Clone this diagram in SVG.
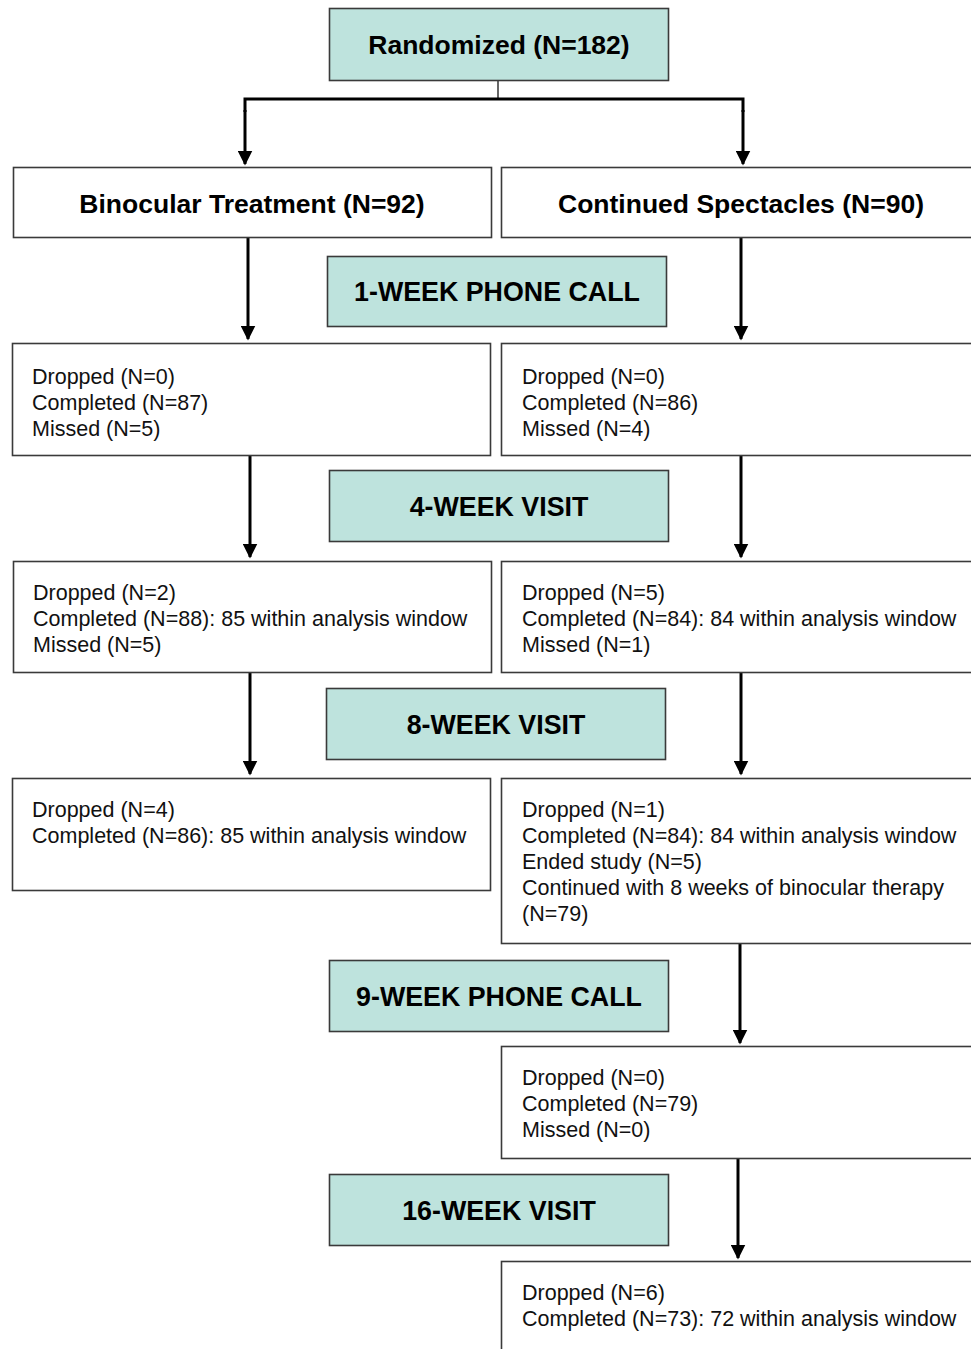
<svg xmlns="http://www.w3.org/2000/svg" width="971" height="1349" viewBox="0 0 971 1349">
<defs>
<marker id="ah" markerWidth="5" markerHeight="5" refX="4.5" refY="2.5" orient="auto" markerUnits="strokeWidth">
<path d="M0,0 L5,2.5 L0,5 Z" fill="#000"/>
</marker>
<style>
.box{fill:#fff;stroke:#3a3a3a;stroke-width:1.6}
.teal{fill:#bee3dd;stroke:#3a3a3a;stroke-width:1.6}
.h{font-family:"Liberation Sans",Arial,sans-serif;font-weight:bold;font-size:26.5px;fill:#000;text-anchor:middle}
.t{font-family:"Liberation Sans",Arial,sans-serif;font-weight:bold;font-size:26.8px;fill:#000;text-anchor:middle}
.b{font-family:"Liberation Sans",Arial,sans-serif;font-size:21.5px;fill:#111}
.c{fill:none;stroke:#000;stroke-width:3}
</style>
</defs>
<rect width="971" height="1349" fill="#fff"/>
<g id="connectors">
<line x1="498" y1="80" x2="498" y2="99" stroke="#000" stroke-width="1.2"/>
<polyline class="c" points="245,112 245,99 743,99 743,112"/>
<line class="c" x1="245" y1="110" x2="245" y2="164" marker-end="url(#ah)"/>
<line class="c" x1="743" y1="110" x2="743" y2="164" marker-end="url(#ah)"/>
<line class="c" x1="248" y1="238" x2="248" y2="339" marker-end="url(#ah)"/>
<line class="c" x1="741" y1="238" x2="741" y2="339" marker-end="url(#ah)"/>
<line class="c" x1="250" y1="456" x2="250" y2="557" marker-end="url(#ah)"/>
<line class="c" x1="741" y1="456" x2="741" y2="557" marker-end="url(#ah)"/>
<line class="c" x1="250" y1="673" x2="250" y2="774" marker-end="url(#ah)"/>
<line class="c" x1="741" y1="673" x2="741" y2="774" marker-end="url(#ah)"/>
<line class="c" x1="740" y1="943" x2="740" y2="1043" marker-end="url(#ah)"/>
<line class="c" x1="738" y1="1158" x2="738" y2="1258" marker-end="url(#ah)"/>
</g>
<g id="randomized">
<rect class="teal" x="329.5" y="8.5" width="339" height="72"/>
<text class="h" x="499" y="54">Randomized (N=182)</text>
</g>
<g id="binocular">
<rect class="box" x="13.5" y="167.5" width="478" height="70"/>
<text class="h" x="252" y="213">Binocular Treatment (N=92)</text>
</g>
<g id="spectacles">
<rect class="box" x="501.5" y="167.5" width="480" height="70"/>
<text class="h" x="741" y="213">Continued Spectacles (N=90)</text>
</g>
<g id="week1">
<rect class="teal" x="327.5" y="256.5" width="339" height="70"/>
<text class="t" x="497" y="301">1-WEEK PHONE CALL</text>
</g>
<g id="bin-w1">
<rect class="box" x="12.5" y="343.5" width="478" height="112"/>
<text class="b" x="32" y="384">Dropped (N=0)</text>
<text class="b" x="32" y="410">Completed (N=87)</text>
<text class="b" x="32" y="436">Missed (N=5)</text>
</g>
<g id="spec-w1">
<rect class="box" x="501.5" y="343.5" width="480" height="112"/>
<text class="b" x="522" y="384">Dropped (N=0)</text>
<text class="b" x="522" y="410">Completed (N=86)</text>
<text class="b" x="522" y="436">Missed (N=4)</text>
</g>
<g id="week4">
<rect class="teal" x="329.5" y="470.5" width="339" height="71"/>
<text class="t" x="499" y="516">4-WEEK VISIT</text>
</g>
<g id="bin-w4">
<rect class="box" x="13.5" y="561.5" width="478" height="111"/>
<text class="b" x="33" y="600">Dropped (N=2)</text>
<text class="b" x="33" y="626">Completed (N=88): 85 within analysis window</text>
<text class="b" x="33" y="652">Missed (N=5)</text>
</g>
<g id="spec-w4">
<rect class="box" x="501.5" y="561.5" width="480" height="111"/>
<text class="b" x="522" y="600">Dropped (N=5)</text>
<text class="b" x="522" y="626">Completed (N=84): 84 within analysis window</text>
<text class="b" x="522" y="652">Missed (N=1)</text>
</g>
<g id="week8">
<rect class="teal" x="326.5" y="688.5" width="339" height="71"/>
<text class="t" x="496" y="734">8-WEEK VISIT</text>
</g>
<g id="bin-w8">
<rect class="box" x="12.5" y="778.5" width="478" height="112"/>
<text class="b" x="32" y="817">Dropped (N=4)</text>
<text class="b" x="32" y="843">Completed (N=86): 85 within analysis window</text>
</g>
<g id="spec-w8">
<rect class="box" x="501.5" y="778.5" width="480" height="165"/>
<text class="b" x="522" y="817">Dropped (N=1)</text>
<text class="b" x="522" y="843">Completed (N=84): 84 within analysis window</text>
<text class="b" x="522" y="869">Ended study (N=5)</text>
<text class="b" x="522" y="895">Continued with 8 weeks of binocular therapy</text>
<text class="b" x="522" y="921">(N=79)</text>
</g>
<g id="week9">
<rect class="teal" x="329.5" y="960.5" width="339" height="71"/>
<text class="t" x="499" y="1006">9-WEEK PHONE CALL</text>
</g>
<g id="spec-w9">
<rect class="box" x="501.5" y="1046.5" width="480" height="112"/>
<text class="b" x="522" y="1085">Dropped (N=0)</text>
<text class="b" x="522" y="1111">Completed (N=79)</text>
<text class="b" x="522" y="1137">Missed (N=0)</text>
</g>
<g id="week16">
<rect class="teal" x="329.5" y="1174.5" width="339" height="71"/>
<text class="t" x="499" y="1220">16-WEEK VISIT</text>
</g>
<g id="spec-w16">
<rect class="box" x="501.5" y="1261.5" width="480" height="120"/>
<text class="b" x="522" y="1300">Dropped (N=6)</text>
<text class="b" x="522" y="1326">Completed (N=73): 72 within analysis window</text>
</g>
</svg>
